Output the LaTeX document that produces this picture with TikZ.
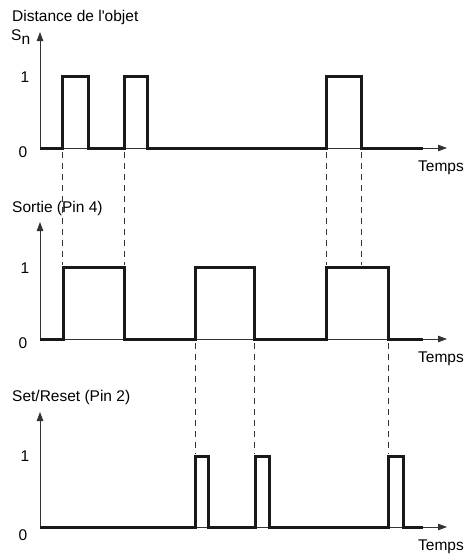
\documentclass[tikz,border=0pt]{standalone}
\usepackage{fontspec}
\setmainfont{Liberation Sans}
\usetikzlibrary{arrows.meta}
\tikzset{signal/.style={line width=3pt,line join=miter,black!90},
axis/.style={line width=0.8pt,black!80,-{Triangle[length=9pt,width=6.5pt]}},
guide/.style={line width=0.8pt,dash pattern=on 6pt off 5pt,black!80},
lvl/.style={anchor=center,inner sep=0pt}}

\begin{document}
\begin{tikzpicture}[x=1pt,y=-1pt,font=\fontsize{15.5}{18}\selectfont]
		\useasboundingbox (0,0) rectangle (466,558);

		% axes of the three charts
		\foreach \i/\b/\t/\z in {1/148/32/4,2/339/222/4,3/527/412/8}{
			\coordinate (o\i) at (40,\b);
			\coordinate (y\i) at (40,\t);
			\coordinate (x\i) at (447,\b);
			\draw[axis] (o\i) -- (y\i);
			\draw[axis] (o\i) -- (x\i);
			\node[lvl] (one\i) at (25,\b-71) {1};
			\node[lvl] (zero\i) at (23,\b+\z) {0};
			\node[lvl] (temps\i) at (441,\b+20) {Temps};
		}

		% titles
		\node[anchor=west,inner sep=0pt] (t1) at (12,17) {Distance de l\textquotesingle objet};
		\node[anchor=west,inner sep=0pt] (sn) at (11,37) {S\raisebox{-0.45ex}{n}};
		\node[anchor=west,inner sep=0pt] (t2) at (12,208) {Sortie (Pin 4)};
		\node[anchor=west,inner sep=0pt] (t3) at (12,397) {Set/Reset (Pin 2)};

		% signals
		\draw[signal] (40,148) -- (62,148) -- (62,76) -- (88,76) -- (88,148)
			-- (124,148) -- (124,76) -- (147,76) -- (147,148) -- (326,148)
			-- (326,76) -- (361,76) -- (361,148) -- (423,148);
		\draw[signal] (40,339) -- (63,339) -- (63,267) -- (124,267) -- (124,339)
			-- (195,339) -- (195,267) -- (254,267) -- (254,339) -- (326,339)
			-- (326,267) -- (388,267) -- (388,339) -- (423,339);
		\draw[signal] (40,527) -- (195,527) -- (195,456) -- (208,456) -- (208,527)
			-- (255,527) -- (255,456) -- (269,456) -- (269,527) -- (388,527)
			-- (388,456) -- (403,456) -- (403,527) -- (423,527);

		% dashed guides
		\foreach \x in {62,124,326,361}{
			\coordinate (ga\x) at (\x,152);
			\coordinate (gb\x) at (\x,265);
			\draw[guide] (ga\x) -- (gb\x);
		}
		\foreach \x in {195,254,388}{
			\coordinate (gc\x) at (\x,343);
			\coordinate (gd\x) at (\x,454);
			\draw[guide] (gc\x) -- (gd\x);
		}
	\end{tikzpicture}
\end{document}
